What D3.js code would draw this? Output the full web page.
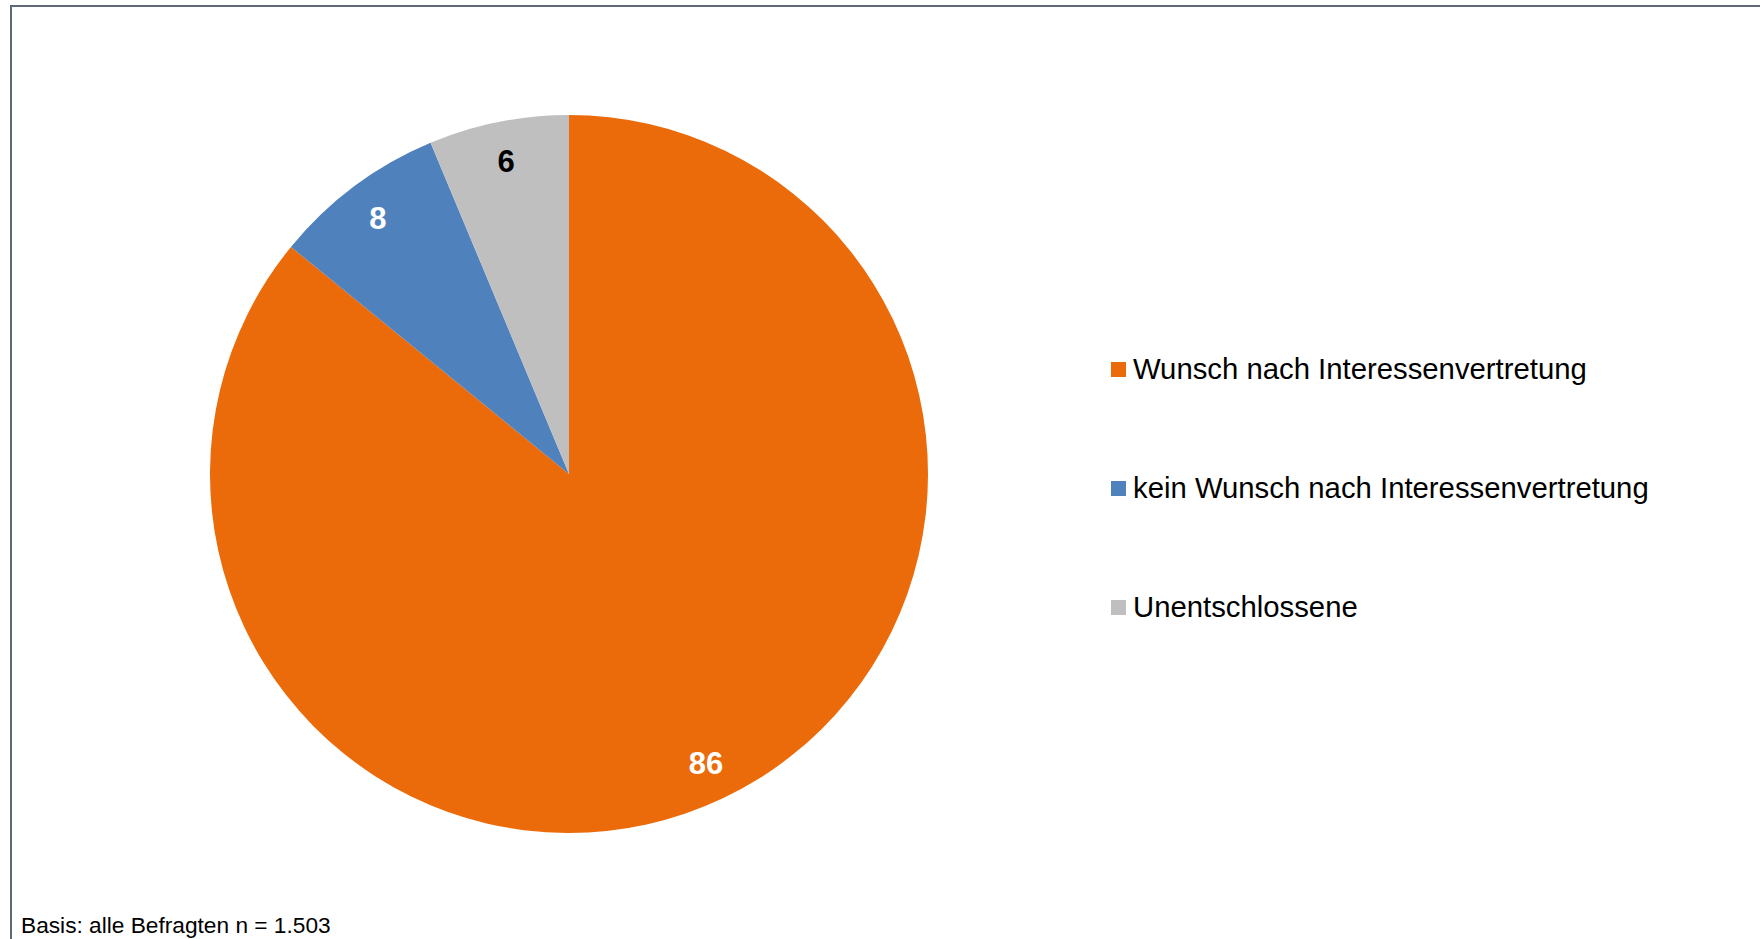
<!DOCTYPE html>
<html>
<head>
<meta charset="utf-8">
<script src="https://cdn.jsdelivr.net/npm/d3@7"></script>
<style>
  body { margin: 0; background: #fff; }
  svg { display: block; font-family: "Liberation Sans", Arial, sans-serif; }
</style>
</head>
<body>
<div id="chart"></div>
<script>
// shares in percent, clockwise from 12 o'clock
var categories = ["Wunsch nach Interessenvertretung", "kein Wunsch nach Interessenvertretung", "Unentschlossene"];
var shares = [85.9, 7.8, 6.3];
var labels = ["86", "8", "6"];
var colors = ["#eb6b0a", "#4f81bd", "#bfbfbf"];
var labelColors = ["#fff", "#fff", "#000"];
var footnote = "Basis: alle Befragten n = 1.503";

var width = 1760, height = 939;

var svg = d3.select("#chart").append("svg")
    .attr("width", width)
    .attr("height", height);

// frame (only top and left edges visible)
svg.append("rect")
    .attr("x", 11).attr("y", 6)
    .attr("width", width + 20).attr("height", height + 20)
    .attr("fill", "#fff")
    .attr("stroke", "#606a74")
    .attr("stroke-width", 2);

var data = categories.map(function(c, i) {
  return {name: c, value: shares[i], label: labels[i], color: colors[i], tc: labelColors[i]};
});

var cx = 569, cy = 474, radius = 359;

var pie = d3.pie().sort(null).value(function(d) { return d.value; });
var arc = d3.arc().innerRadius(0).outerRadius(radius);
var labelArc = d3.arc().innerRadius(radius * 0.89).outerRadius(radius * 0.89);

var g = svg.append("g")
    .attr("transform", "translate(" + cx + "," + cy + ")");

var slices = g.selectAll("g.slice")
    .data(pie(data))
  .enter().append("g")
    .attr("class", "slice");

slices.append("path")
    .attr("d", arc)
    .attr("fill", function(d) { return d.data.color; });

slices.append("text")
    .attr("transform", function(d) { return "translate(" + labelArc.centroid(d) + ")"; })
    .attr("dy", "0.36em")
    .attr("text-anchor", "middle")
    .style("font-size", "31px")
    .style("font-weight", "bold")
    .attr("fill", function(d) { return d.data.tc; })
    .text(function(d) { return d.data.label; });

// legend
var legend = svg.append("g")
    .attr("transform", "translate(1111,0)");

var rows = legend.selectAll("g.row")
    .data(data)
  .enter().append("g")
    .attr("class", "row")
    .attr("transform", function(d, i) { return "translate(0," + (379 + i * 119) + ")"; });

rows.append("rect")
    .attr("x", 0).attr("y", -17)
    .attr("width", 15).attr("height", 15)
    .attr("fill", function(d) { return d.color; });

rows.append("text")
    .attr("x", 22)
    .attr("y", 0)
    .style("font-size", "29.3px")
    .attr("fill", "#000")
    .text(function(d) { return d.name; });

svg.append("text")
    .attr("x", 21)
    .attr("y", 933)
    .style("font-size", "22.7px")
    .attr("fill", "#000")
    .text(footnote);
</script>
</body>
</html>
